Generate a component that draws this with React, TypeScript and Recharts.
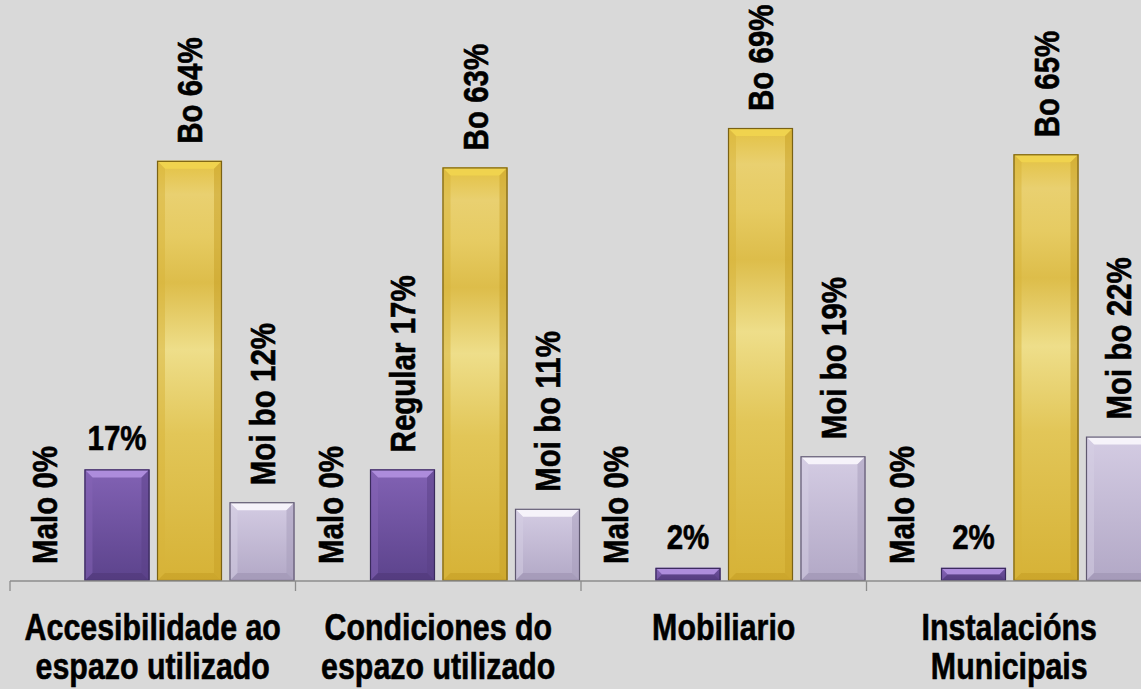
import React from "react";
import { BarChart, Bar, XAxis, YAxis, LabelList } from "recharts";

const categories = [
  "Accesibilidade ao\nespazo utilizado",
  "Condiciones do\nespazo utilizado",
  "Mobiliario",
  "Instalacións\nMunicipais",
];
const seriesNames = ["Malo", "Regular", "Bo", "Moi bo"];
const maloValues = [0, 0, 0, 0];
const regularValues = [17, 17, 2, 2];
const boValues = [64, 63, 69, 65];
const moiBoValues = [12, 11, 19, 22];
// which labels carry the series name (rotated) vs. value only (horizontal)
const regularShowName = [false, true, false, false];

const data = categories.map((c, i) => ({
  name: c,
  malo: maloValues[i],
  regular: regularValues[i],
  bo: boValues[i],
  moiBo: moiBoValues[i],
}));

const W = 1165;
const H = 689;
const M = { top: 0, right: 13, left: 10, bottom: 0 };
const PLOT_W = W - M.left - M.right;
const HALF_BAND = PLOT_W / categories.length / 2;
const FONT = "'Liberation Sans', Arial, sans-serif";
const NARROW = 0.82;
const LABEL_FS = 36;
const CAT_FS = 37;
const TEXT_STYLE = { fontFamily: FONT, fontWeight: 700, fill: "#000", stroke: "#000", strokeWidth: 0.6 };

type Palette = { id: string; top: string; left: string; right: string; bottom: string; stroke: string };
const palettes: Record<string, Palette> = {
  regular: { id: "gRegular", top: "#ad8cdc", left: "#8664b6", right: "#5a3f86", bottom: "#4e3776", stroke: "#3a2a5c" },
  bo: { id: "gBo", top: "#f0d34e", left: "#d8b43a", right: "#c8a026", bottom: "#c59d25", stroke: "#7a6214" },
  moiBo: { id: "gMoiBo", top: "#f6f3fa", left: "#d6cfe3", right: "#a59bb9", bottom: "#9b90ae", stroke: "#5f5870" },
};

function makeShape(p: Palette) {
  return (props: any) => {
    const { x, y, width: w, height: h } = props;
    if (!h || h <= 0.5) return <g />;
    const b = Math.min(8, h / 2, w / 2);
    return (
      <g>
        <rect x={x} y={y} width={w} height={h} fill={`url(#${p.id})`} />
        <polygon points={`${x},${y} ${x + w},${y} ${x + w - b},${y + b} ${x + b},${y + b}`} fill={p.top} />
        <polygon points={`${x},${y} ${x + b},${y + b} ${x + b},${y + h - b} ${x},${y + h}`} fill={p.left} opacity={0.5} />
        <polygon points={`${x + w},${y} ${x + w},${y + h} ${x + w - b},${y + h - b} ${x + w - b},${y + b}`} fill={p.right} opacity={0.5} />
        <polygon points={`${x},${y + h} ${x + b},${y + h - b} ${x + w - b},${y + h - b} ${x + w},${y + h}`} fill={p.bottom} opacity={0.55} />
        <rect x={x + 0.5} y={y + 0.5} width={w - 1} height={h - 1} fill="none" stroke={p.stroke} strokeWidth={1.2} />
      </g>
    );
  };
}

function makeLabel(name: string, showName: boolean[]) {
  return (props: any) => {
    const { x, y, width, value, index } = props;
    const cx = x + width / 2;
    const rotated = showName[index];
    if (rotated) {
      return (
        <text
          x={0}
          y={0}
          dy={LABEL_FS * 0.36}
          transform={`translate(${cx},${y - 17}) rotate(-90) scale(${NARROW},1)`}
          textAnchor="start"
          fontSize={LABEL_FS}
          {...TEXT_STYLE}
        >
          {`${name} ${value}%`}
        </text>
      );
    }
    return (
      <text
        x={0}
        y={0}
        transform={`translate(${cx},${y - 19}) scale(${NARROW},1)`}
        textAnchor="middle"
        fontSize={LABEL_FS}
        {...TEXT_STYLE}
      >
        {`${value}%`}
      </text>
    );
  };
}

const CatTick = (props: any) => {
  const { x, y, payload, index } = props;
  const lines = String(payload.value).split("\n");
  const left = x - HALF_BAND;
  const right = x + HALF_BAND;
  return (
    <g>
      <line x1={left} x2={left} y1={y} y2={y + 10} stroke="#8c8c8c" strokeWidth={1.3} />
      {index === categories.length - 1 && (
        <line x1={right} x2={right} y1={y} y2={y + 10} stroke="#8c8c8c" strokeWidth={1.3} />
      )}
      {lines.map((l, i) => (
        <text
          key={i}
          x={0}
          y={0}
          transform={`translate(${x},${y + 59 + i * 39}) scale(${NARROW},1)`}
          textAnchor="middle"
          fontSize={CAT_FS}
          {...TEXT_STYLE}
        >
          {l}
        </text>
      ))}
    </g>
  );
};

const allTrue = [true, true, true, true];

export default function App() {
  return (
    <div
      style={{
        position: "absolute",
        left: 0,
        top: 0,
        width: 1141,
        height: 689,
        overflow: "hidden",
        background: "#d9d9d9",
      }}
    >
      <svg width={0} height={0} style={{ position: "absolute" }}>
        <defs>
          <linearGradient id="gRegular" x1="0" y1="0" x2="0" y2="1">
            <stop offset="0" stopColor="#8262b4" />
            <stop offset="1" stopColor="#5c438c" />
          </linearGradient>
          <linearGradient id="gBo" x1="0" y1="0" x2="0" y2="1">
            <stop offset="0" stopColor="#e3c142" />
            <stop offset="0.08" stopColor="#e9d070" />
            <stop offset="0.18" stopColor="#e6cb62" />
            <stop offset="0.29" stopColor="#ddbd4a" />
            <stop offset="0.45" stopColor="#eede8a" />
            <stop offset="0.65" stopColor="#e2c658" />
            <stop offset="1" stopColor="#d6b236" />
          </linearGradient>
          <linearGradient id="gMoiBo" x1="0" y1="0" x2="0" y2="1">
            <stop offset="0" stopColor="#d4cce3" />
            <stop offset="1" stopColor="#b2a8c6" />
          </linearGradient>
        </defs>
      </svg>
      <BarChart width={W} height={H} data={data} margin={M} barGap={7.5} barCategoryGap={2}>
        <YAxis hide domain={[0, 88.5]} allowDataOverflow />
        <XAxis
          dataKey="name"
          height={108}
          interval={0}
          tickSize={0}
          tickMargin={0}
          tickLine={false}
          axisLine={{ stroke: "#8c8c8c", strokeWidth: 1.3 }}
          tick={<CatTick />}
        />
        <Bar dataKey="malo" name={seriesNames[0]} isAnimationActive={false} shape={makeShape(palettes.regular)}>
          <LabelList dataKey="malo" content={makeLabel(seriesNames[0], allTrue)} />
        </Bar>
        <Bar dataKey="regular" name={seriesNames[1]} isAnimationActive={false} shape={makeShape(palettes.regular)}>
          <LabelList dataKey="regular" content={makeLabel(seriesNames[1], regularShowName)} />
        </Bar>
        <Bar dataKey="bo" name={seriesNames[2]} isAnimationActive={false} shape={makeShape(palettes.bo)}>
          <LabelList dataKey="bo" content={makeLabel(seriesNames[2], allTrue)} />
        </Bar>
        <Bar dataKey="moiBo" name={seriesNames[3]} isAnimationActive={false} shape={makeShape(palettes.moiBo)}>
          <LabelList dataKey="moiBo" content={makeLabel(seriesNames[3], allTrue)} />
        </Bar>
      </BarChart>
    </div>
  );
}
